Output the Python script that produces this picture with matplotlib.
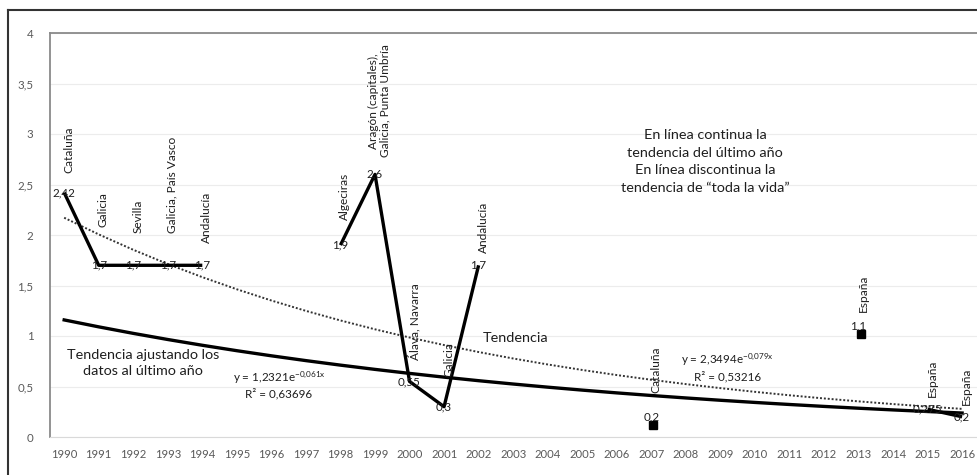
import numpy as np
import matplotlib
matplotlib.use("Agg")
import matplotlib.pyplot as plt
from matplotlib.lines import Line2D
import matplotlib.transforms as mtrans

plt.rcParams['font.family'] = ['Lato', 'DejaVu Sans']
plt.rcParams['mathtext.fontset'] = 'custom'
plt.rcParams['mathtext.rm'] = 'Lato'
plt.rcParams['mathtext.it'] = 'Lato:italic'
plt.rcParams['mathtext.bf'] = 'Lato:bold'

# ---------------- data ----------------
years = list(range(1990, 2017))
tick_labels = [str(y) for y in years]

seg1_years = [1990, 1991, 1992, 1993, 1994]
seg1_vals = [2.42, 1.7, 1.7, 1.7, 1.7]
seg1_names = ["Cataluña", "Galicia", "Sevilla", "Galicia, País Vasco", "Andalucía"]

seg2_years = [1998, 1999, 2000, 2001, 2002]
seg2_vals = [1.9, 2.6, 0.55, 0.3, 1.7]
seg2_names = ["Algeciras", "Aragón (capitales),\nGalicia, Punta Umbría", "Álava, Navarra",
              "Galicia", "Andalucía"]

seg3_years = [2015, 2016]
seg3_vals = [0.275, 0.2]
seg3_names = ["España", "España"]

sq_years = [2007, 2013]
sq_vals = [0.2, 1.1]
sq_names = ["Cataluña", "España"]

# exponential trend lines as reported on the chart: y = a * exp(b * k), k = 1..27
trend_last_a, trend_last_b = 1.2321, -0.061
trend_all_a, trend_all_b = 2.3494, -0.079

# layout: heights (in data units) where the rotated place names start
seg1_name_y = [2.61, 2.08, 2.02, 2.02, 1.92]
seg2_name_y = [2.15, 2.77, 0.76, 0.59, 1.82]
seg3_name_y = [0.40, 0.32]
sq_name_y = [0.44, 1.24]

def fmt(v):
    return ("%g" % v).replace(".", ",")

TXT = '#1e1e1e'

# ---------------- figure ----------------
W, H = 978, 475
fig = plt.figure(figsize=(W / 100, H / 100), dpi=100)
ax = fig.add_axes([50 / W, 1 - 437 / H, 928 / W, 404 / H])
ax.set_xlim(1989.59, 2016.46)
ax.set_ylim(0, 4)

yt = np.arange(0, 4.01, 0.5)
ax.set_yticks(yt)
ax.set_yticklabels([fmt(v) for v in yt])
ax.set_xticks(years)
ax.set_xticklabels(tick_labels)
ax.tick_params(axis='both', length=0, labelsize=8.1, labelcolor='#595959')
ax.tick_params(axis='y', pad=12, labelsize=8.3)
ax.tick_params(axis='x', pad=9)
ax.grid(axis='y', color='#ececec', lw=0.8)
ax.set_axisbelow(True)
for s in ['left', 'top']:
    ax.spines[s].set_color('#8a8a8a')
    ax.spines[s].set_linewidth(1.3)
ax.spines['bottom'].set_color('#d9d9d9')
ax.spines['right'].set_color('#f0f0f0')

# trend lines
k = np.arange(1, len(years) + 1)
ax.plot(years, trend_all_a * np.exp(trend_all_b * k), color='#333333', lw=1.4,
        linestyle=(0, (1, 1)), zorder=2)
ax.plot(years, trend_last_a * np.exp(trend_last_b * k), color='black', lw=2.4, zorder=3)

# data segments
for xs, vs in [(seg1_years, seg1_vals), (seg2_years, seg2_vals), (seg3_years, seg3_vals)]:
    ax.plot(xs, vs, color='black', lw=2.4, zorder=4, solid_capstyle='butt')

# square markers (drawn slightly below value labels, as in the original)
off = mtrans.offset_copy(ax.transData, fig=fig, x=2, y=-8, units='dots')
ax.plot(sq_years, sq_vals, linestyle='none', marker='s', ms=6.2, color='black',
        transform=off, zorder=4)

# value labels and place names
lab_fs = 8.4
name_fs = 8.6
for xs, vs, ns, nys in [(seg1_years, seg1_vals, seg1_names, seg1_name_y),
                        (seg2_years, seg2_vals, seg2_names, seg2_name_y),
                        (seg3_years, seg3_vals, seg3_names, seg3_name_y),
                        (sq_years, sq_vals, sq_names, sq_name_y)]:
    for x, v, n, ny in zip(xs, vs, ns, nys):
        ax.text(x, v, fmt(v), ha='center', va='center', fontsize=lab_fs,
                color=TXT, zorder=5)
        ax.text(x + 0.13, ny, n, rotation=90, ha='center', va='bottom',
                fontsize=name_fs, color=TXT, linespacing=1.05, zorder=5)

# annotations
ann_fs = 10.4
ax.text(1992.29, 0.73, "Tendencia ajustando los\ndatos al último año", ha='center',
        va='center', fontsize=ann_fs, color=TXT, linespacing=1.42)
ax.text(2003.06, 0.98, "Tendencia", ha='center', va='center', fontsize=ann_fs,
        color=TXT)
ax.text(2008.56, 2.73, "En línea continua la\ntendencia del último año\n"
        "En línea discontinua la\ntendencia de “toda la vida”", ha='center',
        va='center', fontsize=ann_fs, color=TXT, linespacing=1.55)
eq_fs = 8.4
ax.text(1996.22, 0.52, "y = 1,2321e$^{\\mathregular{-0{,}061x}}$\nR² = 0,63696",
        ha='center', va='center', fontsize=eq_fs, color=TXT, linespacing=1.15)
ax.text(2009.2, 0.69, "y = 2,3494e$^{\\mathregular{-0{,}079x}}$\nR² = 0,53216",
        ha='center', va='center', fontsize=eq_fs, color=TXT, linespacing=1.3)

# outer frame (top and left visible)
fig.add_artist(Line2D([8 / W, 8 / W], [0, 1 - 10 / H], transform=fig.transFigure,
                      color='#333333', lw=1.5))
fig.add_artist(Line2D([8 / W, 1], [1 - 10 / H, 1 - 10 / H], transform=fig.transFigure,
                      color='#333333', lw=1.5))

fig.savefig("out.png", dpi=100)
